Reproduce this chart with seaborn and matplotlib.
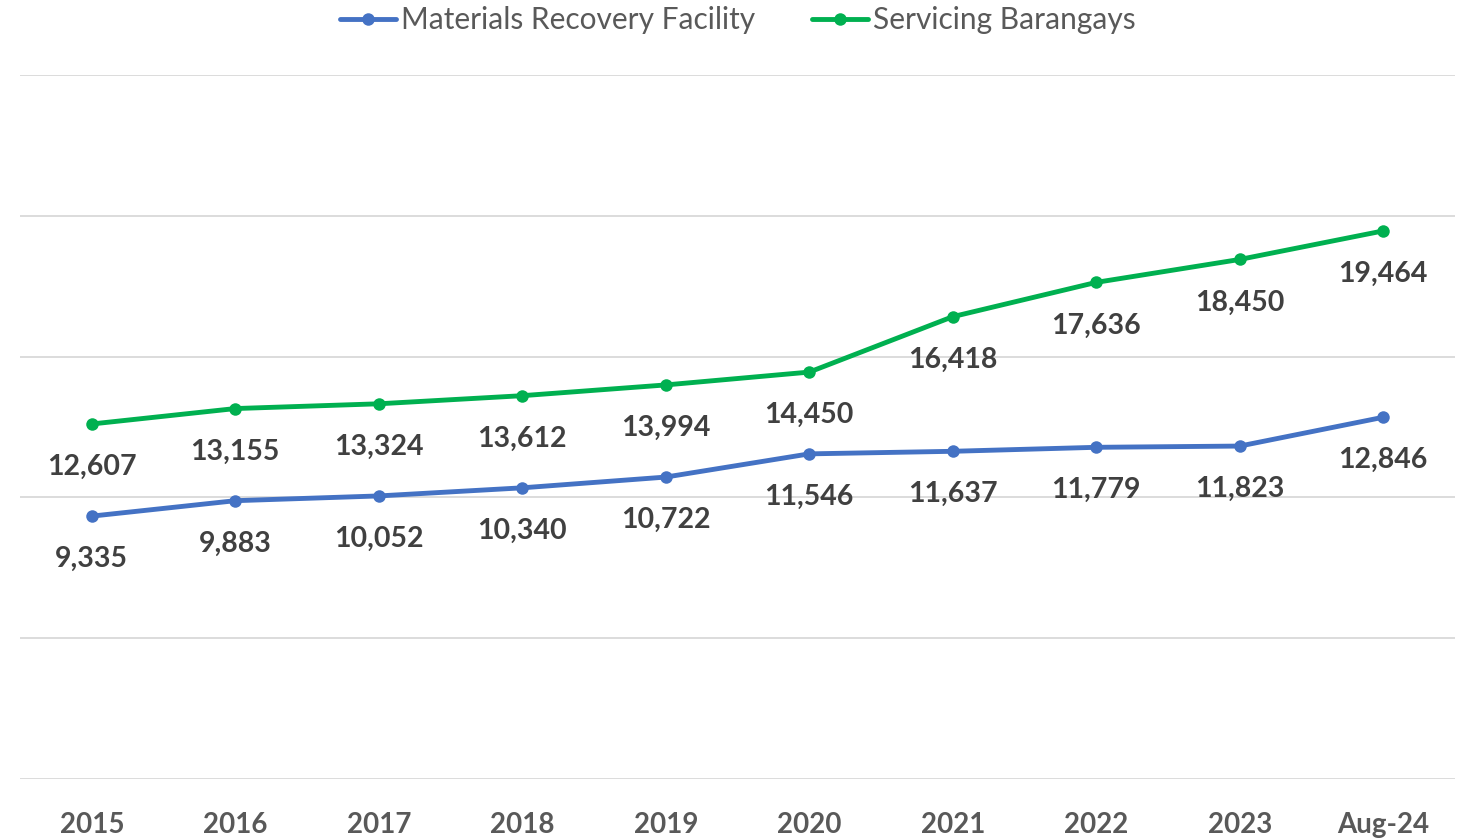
import numpy as np
import pandas as pd
import matplotlib
matplotlib.use('Agg')
import matplotlib.pyplot as plt
import seaborn as sns

years = ['2015', '2016', '2017', '2018', '2019', '2020', '2021', '2022', '2023', 'Aug-24']
mrf = [9335, 9883, 10052, 10340, 10722, 11546, 11637, 11779, 11823, 12846]
brgy = [12607, 13155, 13324, 13612, 13994, 14450, 16418, 17636, 18450, 19464]

series_names = ['Materials Recovery Facility', 'Servicing Barangays']
colors = ['#4472C4', '#00B050']

df = pd.DataFrame({
    'year': years * 2,
    'pos': list(range(len(years))) * 2,
    'value': mrf + brgy,
    'series': [series_names[0]] * len(years) + [series_names[1]] * len(years),
})

sns.set_theme(style='white')
plt.rcParams['font.family'] = ['Lato', 'DejaVu Sans']

fig = plt.figure(figsize=(14.6, 8.38), dpi=100)
ax = fig.add_axes([20/1460, 59/838, 1435/1460, 704/838])

sns.lineplot(data=df, x='pos', y='value', hue='series', palette=colors,
             marker='o', markersize=9, markeredgewidth=0, linewidth=3.5, ax=ax)

# data labels below each point
for vals in [mrf, brgy]:
    for i, v in enumerate(vals):
        ax.annotate(f'{v:,}', (i, v), xytext=(0, -31), textcoords='offset points',
                    ha='center', va='center', fontsize=20.5, fontweight='bold', color='#404040')

ax.set_ylim(0, 25000)
ax.set_yticks(np.arange(0, 25001, 5000))
ax.set_yticklabels([])
ax.set_xlim(-0.5, len(years) - 0.5)
ax.set_xticks(range(len(years)))
ax.set_xticklabels(years, fontsize=20, fontweight='bold', color='#595959')
ax.tick_params(axis='x', length=0, pad=24)
ax.tick_params(axis='y', length=0)
ax.grid(axis='y', color='#D9D9D9', linewidth=1.3)
ax.set_xlabel('')
ax.set_ylabel('')
for s in ax.spines.values():
    s.set_visible(False)

leg = ax.legend(loc='center', bbox_to_anchor=(0.5, 1 + 55/704), ncol=2, frameon=False,
                fontsize=21.5, labelcolor='#595959', handlelength=1.9, handletextpad=0.15,
                columnspacing=1.9)

fig.savefig('out.png', dpi=100)
